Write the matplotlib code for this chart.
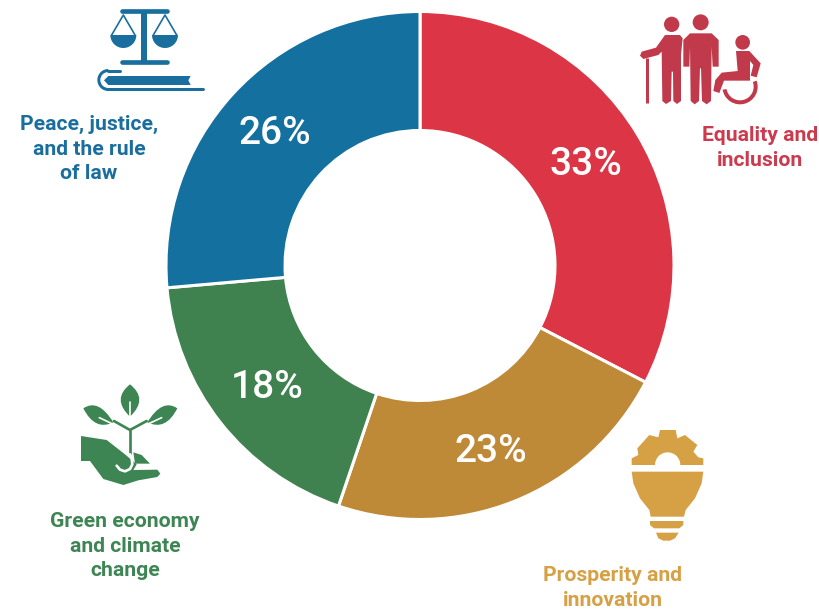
import matplotlib
matplotlib.use('Agg')
import matplotlib.pyplot as plt
from matplotlib.patches import Circle, Polygon, Wedge, PathPatch
from matplotlib.path import Path

categories = ['Equality and\ninclusion', 'Prosperity and\ninnovation',
              'Green economy\nand climate\nchange', 'Peace, justice,\nand the rule\nof law']
shares = [32.6, 22.6, 18.4, 26.4]
percent_labels = ['33%', '23%', '18%', '26%']
slice_colors = ['#DC3545', '#BE8A38', '#40824F', '#14709F']
label_colors = ['#CB3A4D', '#D6A044', '#3E8554', '#1A6E9E']
icon_colors = ['#C13A4B', '#D6A044', '#3E8554', '#1A6E9E']

percent_xy = [(586, 165), (491, 451), (267, 387), (275, 134)]
label_xy = [(760, 148), (613, 588), (125, 546), (89, 149)]

H = 614
plt.rcParams['font.family'] = ['Roboto', 'DejaVu Sans']
fig = plt.figure(figsize=(8.2, 6.14), dpi=100)
ax = fig.add_axes([0, 0, 1, 1])

ax.pie(shares, colors=slice_colors, startangle=90, counterclock=False,
       radius=254, center=(420, H - 265.5),
       wedgeprops=dict(width=119, edgecolor='white', linewidth=2.2))
ax.set_xlim(0, 820)
ax.set_ylim(0, H)
ax.axis('off')

for txt, (x, y) in zip(percent_labels, percent_xy):
    ax.text(x, H - y, txt, color='white', fontsize=28, fontweight='medium',
            ha='center', va='center')
for txt, (x, y), c in zip(categories, label_xy, label_colors):
    ax.text(x, H - y, txt, color=c, fontsize=15.2, fontweight='bold',
            ha='center', va='center', linespacing=1.36)


# icon helpers: points are given in zoomed crop pixels (3x) from an origin
def to_xy(p, o):
    return (o[0] + p[0] / 3, H - (o[1] + p[1] / 3))

def poly(pts, o, c):
    ax.add_patch(Polygon([to_xy(p, o) for p in pts], closed=True, fc=c, ec='none', zorder=3))

def disc(p, r, o, c):
    ax.add_patch(Circle(to_xy(p, o), r / 3, fc=c, ec='none', zorder=3))

def wedge(p, r, a, b, o, c, width=None, z=3):
    ax.add_patch(Wedge(to_xy(p, o), r / 3, a, b, width=width, fc=c, ec='none', zorder=z))

def line(pts, o, c, w, z=3, cap='round'):
    xy = [to_xy(p, o) for p in pts]
    ax.plot([q[0] for q in xy], [q[1] for q in xy], color=c, lw=w * 0.72 / 3,
            solid_capstyle=cap, zorder=z)

def leaf(base, tip, c1, c2, o, c):
    verts = [to_xy(p, o) for p in (base, c1, tip, c2, base)]
    codes = [Path.MOVETO, Path.CURVE3, Path.CURVE3, Path.CURVE3, Path.CURVE3]
    ax.add_patch(PathPatch(Path(verts, codes), fc=c, ec='none', zorder=3))


# scales and book
o = (80, 0)
c = icon_colors[3]
line([(127, 34), (260, 34)], o, c, 14)
line([(127, 186), (260, 186)], o, c, 14)
line([(193, 34), (193, 186)], o, c, 18, cap='butt')
wedge((130, 105), 39, 180, 360, o, c)
wedge((255, 105), 39, 180, 360, o, c)
line([(95, 105), (130, 45), (165, 105)], o, c, 5)
line([(220, 105), (255, 45), (290, 105)], o, c, 5)
line([(120, 212), (85, 212)], o, c, 9)
wedge((85, 240), 33, 90, 270, o, c, width=9 / 3)
line([(85, 267), (368, 267)], o, c, 9)
poly([(85, 228), (332, 228), (325, 241), (332, 255), (85, 255), (72, 241)], o, c)

# people and wheelchair
o = (630, 5)
c = icon_colors[0]
disc((125, 58), 23, o, c)
poly([(150, 90), (105, 90), (78, 128), (35, 140), (30, 152), (40, 162), (85, 150), (95, 140),
      (97, 288), (108, 297), (123, 288), (125, 200), (129, 200), (130, 288), (141, 297),
      (153, 288), (153, 150), (158, 100)], o, c)
line([(50, 160), (50, 295)], o, c, 9, cap='butt')
disc((212, 52), 24, o, c)
poly([(180, 85), (245, 85), (266, 105), (266, 185), (248, 185), (245, 125), (243, 288),
      (230, 298), (216, 288), (213, 190), (210, 190), (207, 288), (194, 298), (182, 288),
      (180, 125), (178, 185), (160, 185), (160, 105)], o, c)
disc((338, 112), 22, o, c)
poly([(318, 138), (358, 138), (392, 175), (380, 217), (362, 212), (370, 180), (360, 168),
      (360, 227), (282, 227), (268, 264), (250, 258), (256, 225), (275, 203), (323, 198)], o, c)
wedge((330, 245), 53, 190, 380, o, c, width=12 / 3)

# hand and plant
o = (70, 375)
c = icon_colors[2]
leaf((180, 125), (180, 28), (124, 72), (236, 72), o, c)
leaf((130, 142), (40, 100), (75, 169), (85, 69), o, c)
leaf((232, 142), (322, 100), (287, 169), (277, 69), o, c)
line([(180, 165), (180, 240)], o, c, 8, cap='butt')
line([(132, 138), (180, 165), (230, 138)], o, c, 8)
line([(180, 80), (180, 125)], o, 'white', 5, z=4)
line([(88, 128), (130, 148)], o, 'white', 5, z=4)
line([(275, 128), (232, 148)], o, 'white', 5, z=4)
poly([(33, 183), (110, 195), (165, 238), (200, 268), (190, 285), (262, 284),
      (271, 296), (262, 306), (205, 316), (160, 330), (100, 312), (60, 258), (33, 258)], o, c)
poly([(190, 232), (215, 240), (240, 266), (195, 266)], o, c)
line([(140, 272), (150, 284), (165, 289), (180, 282), (187, 268), (185, 250), (180, 238)],
     o, 'white', 8, z=4)

# gear and bulb
o = (620, 420)
c = icon_colors[1]
poly([(120, 30), (167, 30), (172, 55), (195, 45), (232, 75), (220, 95), (235, 112), (250, 115),
      (250, 135), (35, 135), (35, 115), (55, 105), (52, 85), (88, 45), (115, 52)], o, c)
wedge((143, 135), 38, 0, 180, o, 'white', z=4)
poly([(35, 155), (250, 155), (245, 190), (225, 235), (197, 270), (192, 290), (92, 290),
      (88, 270), (60, 235), (40, 190)], o, c)
poly([(90, 303), (190, 303), (190, 315), (178, 325), (102, 325), (90, 315)], o, c)
poly([(108, 338), (176, 338), (165, 355), (150, 362), (130, 362), (115, 355)], o, c)

fig.savefig('out.png', dpi=100, facecolor='white')
